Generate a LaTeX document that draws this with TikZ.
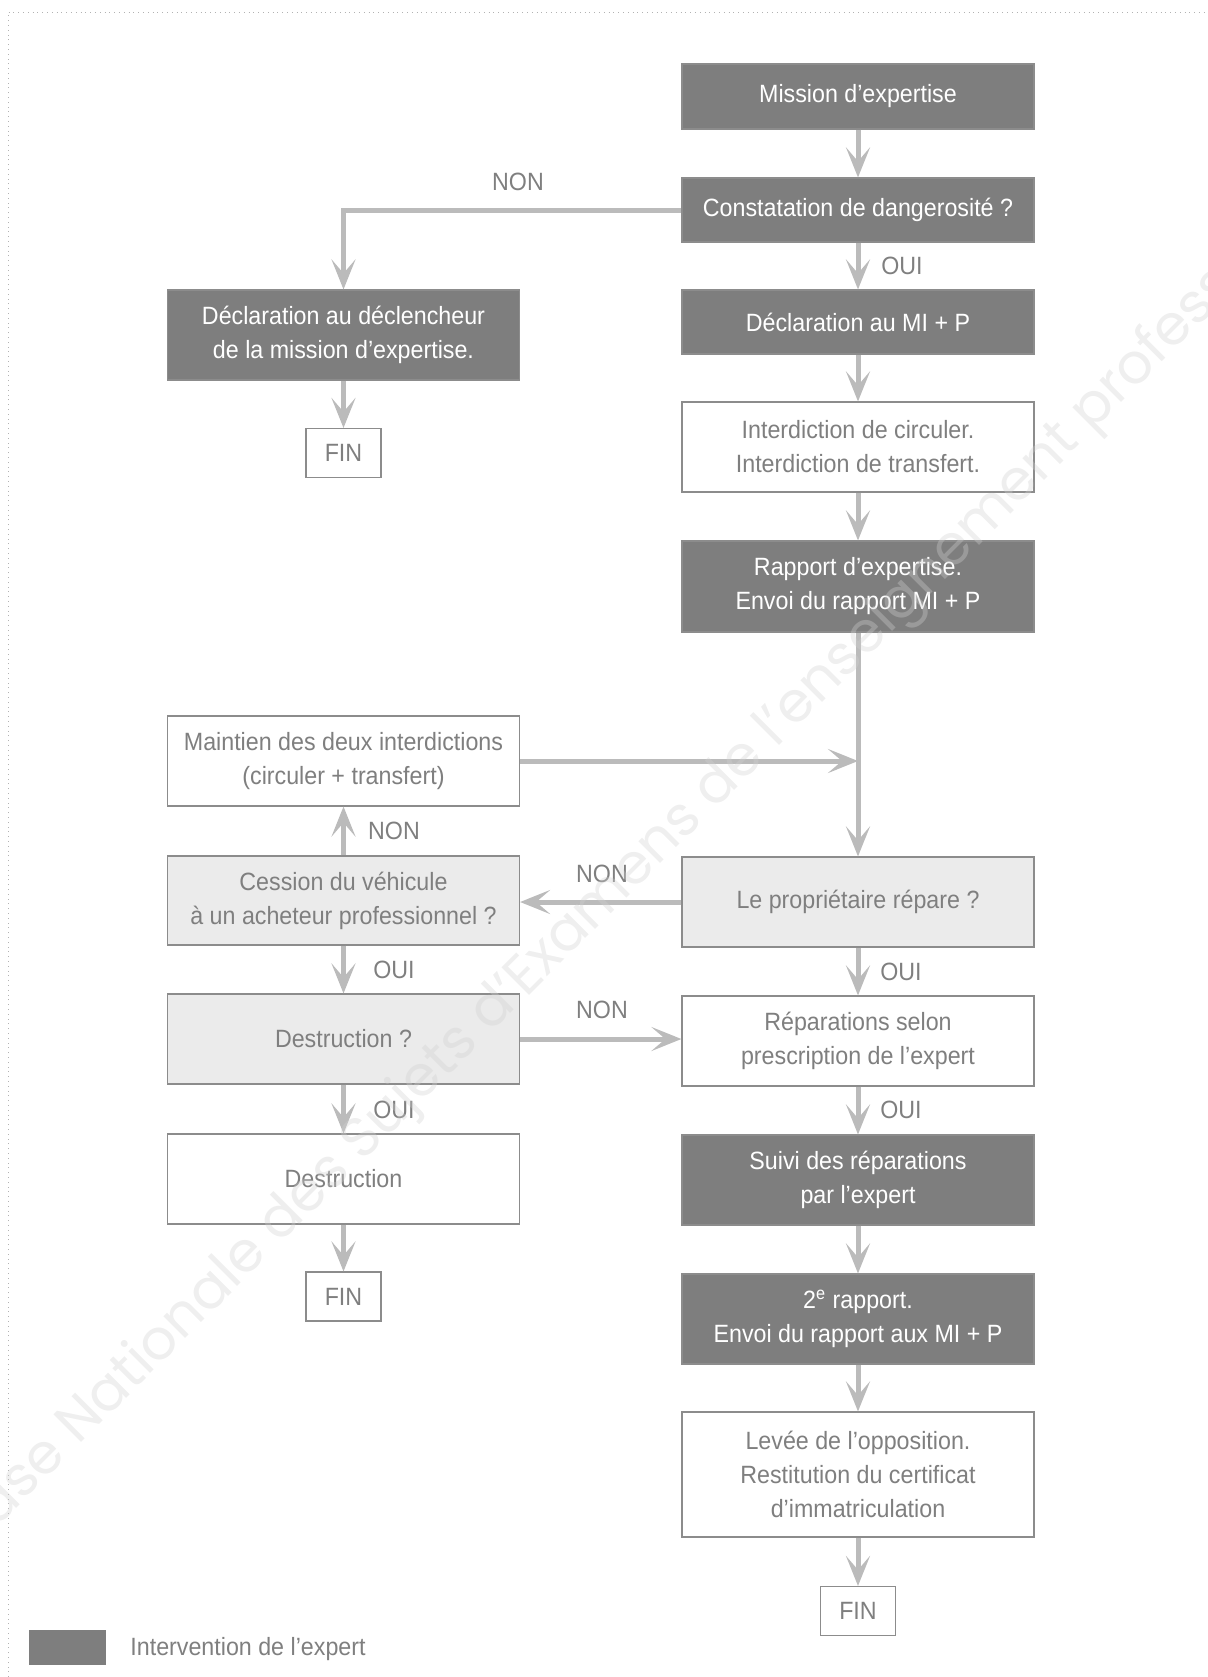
\documentclass[tikz,border=0pt]{standalone}
\usepackage{fontspec}
\setmainfont[FakeStretch=0.93]{Liberation Sans}
\newfontfamily\wmfont{Poppins}
\usetikzlibrary{arrows.meta}
\definecolor{dk}{HTML}{7E7E7E}
\definecolor{lt}{HTML}{EBEBEB}
\definecolor{bd}{HTML}{8C8C8C}
\definecolor{tx}{HTML}{7F7F7F}
\definecolor{ar}{HTML}{BBBBBB}
\definecolor{wm}{HTML}{D0D0D0}
\begin{document}
\begin{tikzpicture}[x=0.5pt,y=-0.5pt,
  base/.style={rectangle, draw=bd, line width=0.6pt, minimum width=176pt, align=center, inner sep=0pt, font=\fontsize{12.5pt}{17pt}\selectfont},
  darkbox/.style={base, fill=dk, text=white},
  lightbox/.style={base, fill=lt, text=tx},
  whitebox/.style={base, fill=white, text=tx},
  finbox/.style={base, fill=white, text=tx, minimum width=37.5pt, minimum height=24.5pt},
  arr/.style={draw=ar, line width=2.5pt, -{Stealth[length=15pt,width=12pt,inset=7pt]}},
  lbl/.style={text=tx, font=\fontsize{12.5pt}{15pt}\selectfont, inner sep=0pt},
]
\useasboundingbox (0,0) rectangle (1208,1677);
\draw[black!30, dotted, line width=0.4pt] (8,1677) -- (8,12) -- (1208,12);

% right column
\node[darkbox, minimum height=32.5pt] (mission) at (858,96.5) {Mission d’expertise};
\node[darkbox, minimum height=32pt] (const) at (858,210) {Constatation de dangerosité ?};
\node[darkbox, minimum height=32pt] (declmi) at (858,322) {Déclaration au MI + P};
\node[whitebox, minimum height=45pt] (interd) at (858,447) {Interdiction de circuler.\\Interdiction de transfert.};
\node[darkbox, minimum height=45.5pt] (rapport) at (858,586.5) {Rapport d’expertise.\\Envoi du rapport MI + P};
\node[lightbox, minimum height=45pt] (proprio) at (858,902) {Le propriétaire répare ?};
\node[whitebox, minimum height=45pt] (repar) at (858,1041) {Réparations selon\\prescription de l’expert};
\node[darkbox, minimum height=45pt] (suivi) at (858,1180) {Suivi des réparations\\par l’expert};
\node[darkbox, minimum height=45pt] (rapport2) at (858,1319) {2\textsuperscript{e} rapport.\\Envoi du rapport aux MI + P};
\node[whitebox, minimum height=62.5pt] (levee) at (858,1474.5) {Levée de l’opposition.\\Restitution du certificat\\d’immatriculation};
\node[finbox] (fin3) at (858,1611) {FIN};

% left column
\node[darkbox, minimum height=45pt] (decld) at (343.5,335) {Déclaration au déclencheur\\de la mission d’expertise.};
\node[finbox] (fin1) at (343.5,453) {FIN};
\node[whitebox, minimum height=45pt] (maintien) at (343.5,761) {Maintien des deux interdictions\\(circuler + transfert)};
\node[lightbox, minimum height=44.5pt] (cession) at (343.5,900.5) {Cession du véhicule\\à un acheteur professionnel ?};
\node[lightbox, minimum height=45pt] (destq) at (343.5,1039) {Destruction ?};
\node[whitebox, minimum height=45pt] (dest) at (343.5,1179) {Destruction};
\node[finbox] (fin2) at (343.5,1296.5) {FIN};

% connectors
\draw[arr] (mission) -- (const);
\draw[arr] (const.west) -| (decld.north);
\draw[arr] (const) -- (declmi);
\draw[arr] (declmi) -- (interd);
\draw[arr] (interd) -- (rapport);
\draw[arr] (rapport) -- (proprio);
\coordinate (jn) at (rapport.south |- maintien.east);
\draw[arr] (maintien.east) -- (jn);
\draw[arr] (proprio.west) -- (proprio.west -| cession.east);
\draw[arr] (cession) -- (maintien);
\draw[arr] (cession) -- (destq);
\draw[arr] (destq.east) -- (destq.east -| repar.west);
\draw[arr] (destq) -- (dest);
\draw[arr] (dest) -- (fin2);
\draw[arr] (decld) -- (fin1);
\draw[arr] (proprio) -- (repar);
\draw[arr] (repar) -- (suivi);
\draw[arr] (suivi) -- (rapport2);
\draw[arr] (rapport2) -- (levee);
\draw[arr] (levee) -- (fin3);

% labels
\node[lbl] (l1) at (518,182) {NON};
\node[lbl] (l2) at (902,266) {OUI};
\node[lbl] (l3) at (394,831) {NON};
\node[lbl] (l4) at (602,874) {NON};
\node[lbl] (l5) at (394,970) {OUI};
\node[lbl] (l6) at (602,1010) {NON};
\node[lbl] (l7) at (394,1110) {OUI};
\node[lbl] (l8) at (901,972) {OUI};
\node[lbl] (l9) at (901,1110) {OUI};

% legend
\node[rectangle, fill=dk, minimum width=38.5pt, minimum height=17.5pt, inner sep=0pt] (leg) at (67.5,1647.5) {};
\node[lbl, anchor=west] (legt) at (130,1649) {Intervention de l’expert};

% watermark
\begin{scope}
\clip (0,0) rectangle (1208,1677);
\node[rotate=45, text=wm, text opacity=0.35, font=\wmfont\fontsize{28pt}{28pt}\selectfont] (wmark) at (655,850) {Base Nationale des Sujets d’Examens de l’enseignement professionnel};
\end{scope}
\end{tikzpicture}
\end{document}
